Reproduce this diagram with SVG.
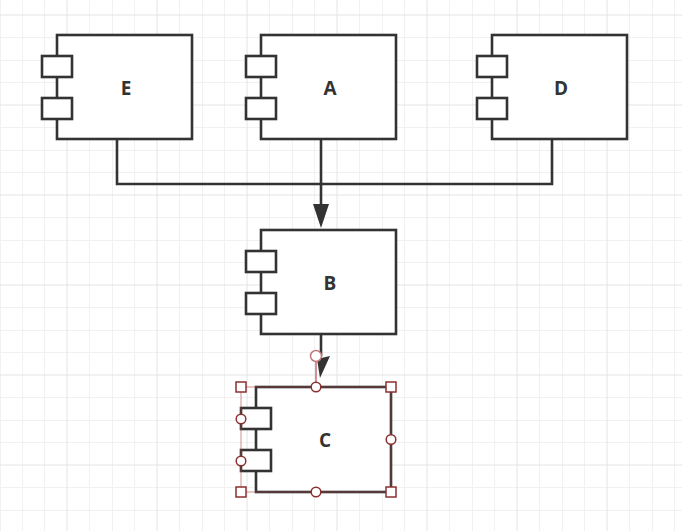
<svg xmlns="http://www.w3.org/2000/svg" width="682" height="531" viewBox="0 0 682 531">
<style>
.minor{stroke:#f1f1f1;stroke-width:1;fill:none}
.major{stroke:#e4e4e4;stroke-width:1;fill:none}
.body{fill:#ffffff;stroke:#333333;stroke-width:2.6}
.port{fill:#ffffff;stroke:#333333;stroke-width:2.6}
.lbl{font-family:"Open Sans","Liberation Sans",Arial,sans-serif;font-weight:bold;font-size:19px;fill:#333333;text-anchor:middle}
.wire{fill:none;stroke:#333333;stroke-width:2.6}
.head{fill:#333333;stroke:none}
.hsq{fill:#ffffff;stroke:#8b3030;stroke-width:1.5}
.hci{fill:#ffffff;stroke:#8b3030;stroke-width:1.5}
</style>
<rect x="0" y="0" width="682" height="531" fill="#ffffff"/>
<g id="grid">
<path class="minor" d="M0.5,0V531M22.5,0V531M44.5,0V531M89.5,0V531M112.5,0V531M134.5,0V531M179.5,0V531M202.5,0V531M224.5,0V531M269.5,0V531M292.5,0V531M314.5,0V531M359.5,0V531M382.5,0V531M404.5,0V531M449.5,0V531M472.5,0V531M494.5,0V531M539.5,0V531M562.5,0V531M584.5,0V531M629.5,0V531M652.5,0V531M674.5,0V531"/>
<path class="minor" d="M0,37.5H682M0,60.5H682M0,82.5H682M0,127.5H682M0,150.5H682M0,172.5H682M0,217.5H682M0,240.5H682M0,262.5H682M0,307.5H682M0,330.5H682M0,352.5H682M0,397.5H682M0,420.5H682M0,442.5H682M0,487.5H682M0,510.5H682"/>
<path class="major" d="M67,0V531M157,0V531M247,0V531M337,0V531M427,0V531M517,0V531M607,0V531"/>
<path class="major" d="M0,15H682M0,105H682M0,195H682M0,285H682M0,375H682M0,465H682"/>
</g>
<g id="connectors">
<path class="wire" d="M117,139V184H552V139"/>
<path class="wire" d="M321,139V206"/>
<polygon class="head" points="313,204 329,204 321,228"/>
<path class="wire" d="M321,334V356"/>
<polygon class="head" points="317,359 330,356 320,378"/>
</g>
<g id="node-E">
<rect class="body" x="57" y="35" width="135" height="104"/>
<rect class="port" x="42" y="56" width="30" height="21"/>
<rect class="port" x="42" y="98" width="30" height="21"/>
<text class="lbl" x="126" y="95">E</text>
</g>
<g id="node-A">
<rect class="body" x="261" y="35" width="135" height="104"/>
<rect class="port" x="246" y="56" width="30" height="21"/>
<rect class="port" x="246" y="98" width="30" height="21"/>
<text class="lbl" x="330" y="95">A</text>
</g>
<g id="node-D">
<rect class="body" x="492" y="35" width="135" height="104"/>
<rect class="port" x="477" y="56" width="30" height="21"/>
<rect class="port" x="477" y="98" width="30" height="21"/>
<text class="lbl" x="561" y="95">D</text>
</g>
<g id="node-B">
<rect class="body" x="261" y="230" width="135" height="104"/>
<rect class="port" x="246" y="251" width="30" height="21"/>
<rect class="port" x="246" y="293" width="30" height="21"/>
<text class="lbl" x="330" y="290">B</text>
</g>
<g id="node-C">
<rect class="body" x="256" y="387" width="135" height="105"/>
<rect class="port" x="241" y="408" width="30" height="21"/>
<rect class="port" x="241" y="450" width="30" height="21"/>
<text class="lbl" x="325" y="447">C</text>
</g>
<g id="selection">
<rect x="241" y="387" width="150" height="105" fill="none" stroke="#b04848" stroke-opacity="0.5" stroke-width="1.2"/>
<path d="M316,360V387" stroke="#c07070" stroke-width="1.5" fill="none"/>
<circle cx="316" cy="356" r="5.5" fill="#ffffff" stroke="#c07878" stroke-width="1.5"/>
<rect class="hsq" x="236" y="382" width="10" height="10"/>
<rect class="hsq" x="386" y="382" width="10" height="10"/>
<rect class="hsq" x="236" y="487" width="10" height="10"/>
<rect class="hsq" x="386" y="487" width="10" height="10"/>
<circle class="hci" cx="316" cy="387" r="4.8"/>
<circle class="hci" cx="316" cy="492" r="4.8"/>
<circle class="hci" cx="391" cy="439.5" r="4.8"/>
<circle class="hci" cx="241" cy="419" r="4.8"/>
<circle class="hci" cx="241" cy="461" r="4.8"/>
</g>
</svg>
